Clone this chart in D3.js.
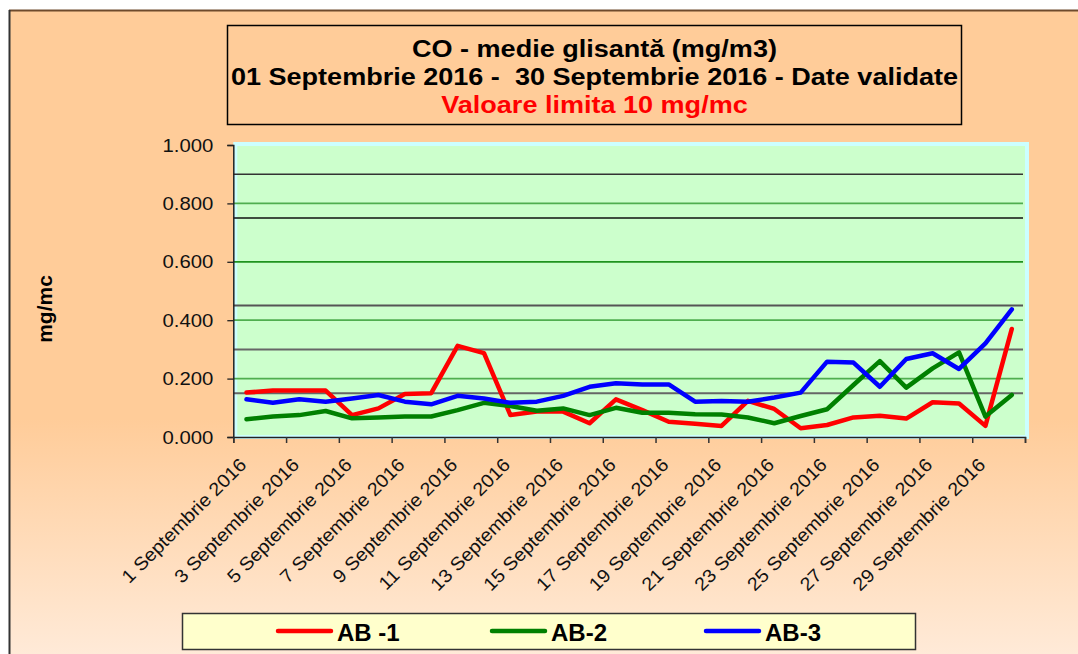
<!DOCTYPE html>
<html>
<head>
<meta charset="utf-8">
<script src="https://cdn.jsdelivr.net/npm/d3@7"></script>
<style>
body { margin: 0; background: #ffffff; }
text { font-family: Arial, "Liberation Sans", sans-serif; }
</style>
</head>
<body>
<svg id="chart" width="1078" height="654"></svg>
<script>

// categorii (zilele lunii)
const days = ["1 Septembrie 2016", "2 Septembrie 2016", "3 Septembrie 2016", "4 Septembrie 2016",
	"5 Septembrie 2016", "6 Septembrie 2016", "7 Septembrie 2016", "8 Septembrie 2016",
	"9 Septembrie 2016", "10 Septembrie 2016", "11 Septembrie 2016", "12 Septembrie 2016",
	"13 Septembrie 2016", "14 Septembrie 2016", "15 Septembrie 2016", "16 Septembrie 2016",
	"17 Septembrie 2016", "18 Septembrie 2016", "19 Septembrie 2016", "20 Septembrie 2016",
	"21 Septembrie 2016", "22 Septembrie 2016", "23 Septembrie 2016", "24 Septembrie 2016",
	"25 Septembrie 2016", "26 Septembrie 2016", "27 Septembrie 2016", "28 Septembrie 2016",
	"29 Septembrie 2016", "30 Septembrie 2016"]

// CO - medie glisanta (mg/m3)
const ab1 = [0.152, 0.159, 0.159, 0.159, 0.075, 0.098, 0.147, 0.150, 0.312, 0.287,
	0.075, 0.087, 0.087, 0.047, 0.129, 0.092, 0.052, 0.045, 0.038, 0.124,
	0.096, 0.030, 0.041, 0.067, 0.073, 0.063, 0.119, 0.115, 0.038, 0.370]
const ab2 = [0.061, 0.070, 0.075, 0.089, 0.064, 0.067, 0.070, 0.070, 0.092, 0.117,
	0.106, 0.090, 0.098, 0.075, 0.100, 0.083, 0.083, 0.078, 0.077, 0.067,
	0.047, 0.072, 0.095, 0.178, 0.260, 0.169, 0.235, 0.290, 0.070, 0.144]
const ab3 = [0.129, 0.117, 0.129, 0.121, 0.132, 0.144, 0.121, 0.112, 0.141, 0.132,
	0.117, 0.121, 0.141, 0.172, 0.184, 0.180, 0.180, 0.121, 0.123, 0.121,
	0.135, 0.152, 0.258, 0.255, 0.172, 0.267, 0.287, 0.233, 0.321, 0.437]

const seriesNames = ["AB -1", "AB-2", "AB-3"]
const seriesColors = ["#ff0000", "#008000", "#0000ff"]

const yTicks = [0, 0.2, 0.4, 0.6, 0.8, 1.0]
const extraLines = [0.15, 0.3, 0.45, 0.75, 0.9]
const extraColors = ["#666666", "#666666", "#555555", "#111111", "#333333"]

const titleLines = ["CO - medie glisantă (mg/m3)",
	"01 Septembrie 2016 -  30 Septembrie 2016 - Date validate",
	"Valoare limita 10 mg/mc"]
const titleColors = ["#000000", "#000000", "#ff0000"]
const yLabel = "mg/mc"

const series = [ab1, ab2, ab3]


var svg = d3.select("#chart")

// latime text "intinsa" ca in original
function stretch (sel, k) {
	sel.each(function () {
		var w = this.getComputedTextLength()
		d3.select(this).attr("textLength", w * k).attr("lengthAdjust", "spacingAndGlyphs")
	})
}

// fundal
var defs = svg.append("defs")
var grad = defs.append("linearGradient")
	.attr("id", "bg")
	.attr("x1", 0).attr("y1", 0).attr("x2", 0).attr("y2", 1)
grad.append("stop").attr("offset", "0.62").attr("stop-color", "#ffcc99")
grad.append("stop").attr("offset", "1").attr("stop-color", "#ffecdc")

svg.append("rect")
	.attr("x", 9).attr("y", 10)
	.attr("width", 1100).attr("height", 660)
	.attr("fill", "url(#bg)")
svg.append("line")
	.attr("x1", 9).attr("x2", 1078).attr("y1", 10.5).attr("y2", 10.5)
	.attr("stroke", "#6e4a2c").attr("stroke-width", 2)
svg.append("line")
	.attr("x1", 9.5).attr("x2", 9.5).attr("y1", 10).attr("y2", 654)
	.attr("stroke", "#333333").attr("stroke-width", 2)

// titlu
svg.append("rect")
	.attr("x", 227.5).attr("y", 25.5)
	.attr("width", 734).attr("height", 99)
	.attr("fill", "none").attr("stroke", "#000").attr("stroke-width", 1.5)

svg.selectAll(".title")
	.data(titleLines)
	.enter()
	.append("text")
	.attr("class", "title")
	.attr("x", 594.5)
	.attr("y", (d, i) => 56.5 + i * 28)
	.attr("text-anchor", "middle")
	.style("white-space", "pre")
	.style("font-size", "23.5px")
	.style("font-weight", "bold")
	.attr("fill", (d, i) => titleColors[i])
	.text(d => d)
	.call(stretch, 1.15)

// zona graficului
var margin = {top: 145, left: 233.3, bottom: 437, right: 1025}

var x_scale = d3.scaleBand()
	.domain(days)
	.range([margin.left, margin.right])
	.padding(0)

var x_bounds = d3.scaleLinear()
	.domain([0, days.length])
	.range([margin.left, margin.right])

var y_scale = d3.scaleLinear()
	.domain([0, 1])
	.range([margin.bottom, margin.top])

svg.append("rect")
	.attr("x", margin.left + 2).attr("y", margin.top - 1)
	.attr("width", margin.right - margin.left).attr("height", margin.bottom - margin.top + 1)
	.attr("fill", "#ccffcc")
	.attr("stroke", "#ccffff").attr("stroke-width", 4)

svg.append("g")
	.selectAll("line")
	.data(yTicks.filter(d => d > 0 && d < 1))
	.enter()
	.append("line")
	.attr("x1", margin.left).attr("x2", margin.right - 2)
	.attr("y1", d => y_scale(d)).attr("y2", d => y_scale(d))
	.attr("stroke", (d, i) => i == 2 ? "#1f931f" : "#4fae4f")
	.attr("stroke-width", 1.8)

svg.append("g")
	.selectAll("line")
	.data(extraLines)
	.enter()
	.append("line")
	.attr("x1", margin.left).attr("x2", margin.right - 2)
	.attr("y1", d => y_scale(d)).attr("y2", d => y_scale(d))
	.attr("stroke", (d, i) => extraColors[i])
	.attr("stroke-width", (d, i) => i < 3 ? 2 : 1.4)

// axa Y
const yaxis = d3.axisLeft()
	.scale(y_scale)
	.tickValues(yTicks)
	.tickFormat(d3.format(".3f"))
	.tickSizeOuter(0)
	.tickSize(6)
	.tickPadding(14)

var gy = svg.append("g")
	.attr("transform", "translate(" + margin.left + ",0)")
	.call(yaxis)
gy.select(".domain").attr("stroke", "#222").attr("stroke-width", 1.5)
gy.selectAll(".tick line").attr("stroke", "#222").attr("stroke-width", 1.3)
gy.selectAll("text")
	.style("font-size", "19px")
	.attr("fill", "#111")
	.call(stretch, 1.07)

svg.append("text")
	.attr("transform", "translate(52,309) rotate(-90)")
	.attr("text-anchor", "middle")
	.style("font-size", "21px")
	.style("font-weight", "bold")
	.text(yLabel)

// axa X
const xticks = d3.axisBottom()
	.scale(x_bounds)
	.tickValues(d3.range(0, days.length + 1, 2))
	.tickFormat("")
	.tickSizeOuter(0)
	.tickSize(6)

var gx = svg.append("g")
	.attr("transform", "translate(0," + margin.bottom + ")")
	.call(xticks)
gx.select(".domain").attr("stroke", "#222").attr("stroke-width", 1.5)
gx.selectAll(".tick line").attr("stroke", "#333").attr("stroke-width", 1.5)

svg.append("g")
	.selectAll("text")
	.data(days.filter((d, i) => i % 2 == 0))
	.enter()
	.append("text")
	.attr("transform", d => "translate(" + (x_scale(d) + x_scale.bandwidth() / 2 + 1) + "," + (margin.bottom + 29) + ") rotate(-45)")
	.attr("text-anchor", "end")
	.style("font-size", "18.5px")
	.attr("fill", "#111")
	.text(d => d)
	.call(stretch, 1.07)

// seriile
const line = d3.line()
	.x((d, i) => x_scale(days[i]) + x_scale.bandwidth() / 2)
	.y(d => y_scale(d))

svg.append("g")
	.selectAll("path")
	.data(series)
	.enter()
	.append("path")
	.attr("d", d => line(d))
	.attr("fill", "none")
	.attr("stroke", (d, i) => seriesColors[i])
	.attr("stroke-width", 4.5)
	.attr("stroke-linejoin", "round")
	.attr("stroke-linecap", "round")

// legenda
svg.append("rect")
	.attr("x", 182.5).attr("y", 613.5)
	.attr("width", 733).attr("height", 36)
	.attr("fill", "#ffffcc")
	.attr("stroke", "#333").attr("stroke-width", 1.5)

var leg = svg.append("g")
	.selectAll("g")
	.data(seriesNames)
	.enter()
	.append("g")
	.attr("transform", (d, i) => "translate(" + (278 + i * 214) + ",631)")

leg.append("line")
	.attr("x1", 0).attr("x2", 53)
	.attr("stroke", (d, i) => seriesColors[i])
	.attr("stroke-width", 4.5)
	.attr("stroke-linecap", "round")

leg.append("text")
	.attr("x", 59).attr("y", 10)
	.style("font-size", "24px")
	.style("font-weight", "bold")
	.text(d => d)

</script>
</body>
</html>
